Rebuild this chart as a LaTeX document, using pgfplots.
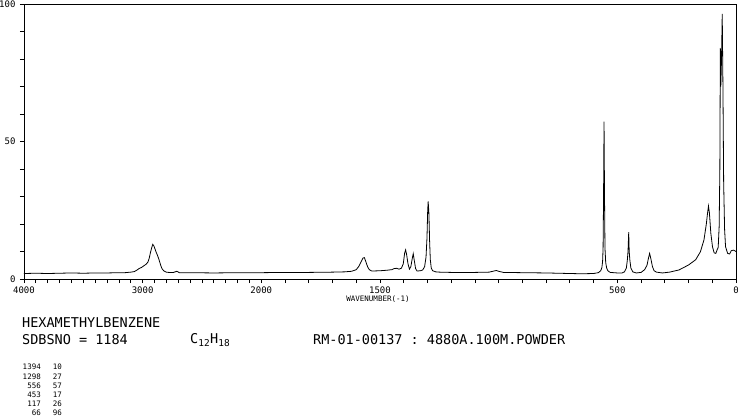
\documentclass[border=0pt]{standalone}
\usepackage{fontspec}
\setmonofont{DejaVu Sans Mono}
\usepackage{pgfplots}
\usepackage{pgfplotstable}
\pgfplotsset{compat=1.18}
\pgfplotstableread{
wn I
4000 2.0
3900 2.1
3800 2.0
3700 2.1
3600 2.2
3500 2.1
3400 2.2
3300 2.2
3200 2.3
3150 2.3
3100 2.5
3070 2.7
3050 3.2
3030 3.8
3010 4.2
2990 4.8
2970 5.4
2955 6.2
2945 7.5
2935 9.5
2925 11.2
2915 12.6
2905 12.0
2895 10.8
2885 9.6
2875 8.6
2865 7.4
2855 6.0
2845 4.6
2835 3.6
2820 2.9
2800 2.5
2780 2.4
2740 2.4
2712 2.8
2690 2.3
2600 2.3
2400 2.2
2200 2.3
2100 2.3
2000 2.3
1900 2.4
1800 2.4
1700 2.5
1650 2.6
1620 2.8
1600 3.4
1590 4.5
1580 6.2
1572 7.6
1566 7.8
1560 6.4
1552 4.4
1545 3.4
1535 2.9
1500 3.0
1470 3.2
1450 3.4
1440 3.8
1430 3.9
1420 3.6
1410 3.9
1402 5.5
1396 9.5
1392 10.6
1388 9.0
1382 5.5
1376 3.6
1370 4.5
1364 7.5
1360 9.2
1356 7.0
1350 3.8
1344 2.9
1330 3.0
1320 3.3
1312 4.5
1306 8.0
1302 15
1299 25
1297 28.2
1294 24
1291 14
1288 7
1284 4
1278 3
1265 2.6
1250 2.5
1200 2.4
1100 2.4
1040 2.5
1020 2.9
1010 3.1
1000 2.8
980 2.4
900 2.3
800 2.2
700 2.0
650 1.9
600 2.0
580 2.3
570 3.0
565 4.2
562 6.5
560 11.2
558 30
556 57.2
554 30
552 11.2
549 6.0
545 4.0
540 3.0
530 2.4
500 2.2
480 2.2
470 2.6
462 4.0
458 6.7
455 10
452 17.0
450 10
447 6.7
443 4.0
435 2.6
420 2.2
400 2.4
385 3.4
375 5.0
369 7.5
364 9.3
359 7.5
352 4.5
345 3.0
335 2.5
310 2.2
280 2.5
240 3.3
200 5.1
170 7.0
150 9.9
135 14.2
125 20
120 23.9
116 26.5
112 24
106 16.6
99 11.7
92 9.5
85 9.3
80 10.5
75 11.5
71 19
68 40
66 84
64 70
61 80
58 96.4
55 70
52 35
48 18
44 11.7
35 9.3
27 9.1
20 10.3
10 10.5
0 10.0
}\spec
\begin{document}
\begin{tikzpicture}
\useasboundingbox (0,0) rectangle (738pt,-418pt);
\begin{axis}[
  scale only axis, width=712pt, height=275pt,
  at={(24pt,-279pt)}, anchor=south west,
  xmin=0, xmax=3000, ymin=0, ymax=100, x dir=reverse,
  axis line style={line width=0.8pt},
  xtick={0,500,1500,2000,2500,3000},
  xticklabels={0,500,1500,2000,3000,4000},
  minor xtick={100,200,300,400,600,700,800,900,1000,1100,1200,1300,1400,1600,1700,1800,1900,2050,2100,2150,2200,2250,2300,2350,2400,2450,2550,2600,2650,2700,2750,2800,2850,2900,2950},
  ytick={0,50,100}, yticklabels={0,50,100},
  minor ytick={10,20,30,40,60,70,80,90},
  tick align=outside, major tick length=4pt, minor tick length=4pt,
  xtick pos=bottom, ytick pos=left,
  tick style={black, line width=0.8pt},
  minor tick style={black, line width=0.8pt},
  ticklabel style={font=\ttfamily\fontsize{9}{9}\selectfont},
  xticklabel style={yshift=0pt},
  yticklabel style={xshift=-1pt},
]
\addplot[black, line width=0.8pt, mark=none] table[x expr={\thisrow{wn}>2000 ? 1000+\thisrow{wn}/2 : \thisrow{wn}}, y=I] {\spec};
\end{axis}
\node[font=\ttfamily\fontsize{7.5}{7.5}\selectfont] at (378pt,-299pt) {WAVENUMBER(-1)};
\begin{scope}[every node/.style={inner sep=0pt, font=\ttfamily\fontsize{13.5}{13.5}\selectfont}]
\node[anchor=west] at (22pt,-323pt) {HEXAMETHYLBENZENE};
\node[anchor=west] at (22pt,-340pt) {SDBSNO = 1184};
\node[anchor=west] at (190pt,-340pt) {C\textsubscript{12}H\textsubscript{18}};
\node[anchor=west] at (313pt,-340pt) {RM-01-00137 : 4880A.100M.POWDER};
\end{scope}
\begin{scope}[every node/.style={inner sep=0pt, anchor=east, font=\ttfamily\fontsize{7.5}{7.5}\selectfont}]
\node at (41pt,-367pt) {1394}; \node at (62pt,-367pt) {10};
\node at (41pt,-376.5pt) {1298}; \node at (62pt,-376.5pt) {27};
\node at (41pt,-386pt) {556}; \node at (62pt,-386pt) {57};
\node at (41pt,-395pt) {453}; \node at (62pt,-395pt) {17};
\node at (41pt,-404pt) {117}; \node at (62pt,-404pt) {26};
\node at (41pt,-413pt) {66}; \node at (62pt,-413pt) {96};
\end{scope}
\end{tikzpicture}
\end{document}
